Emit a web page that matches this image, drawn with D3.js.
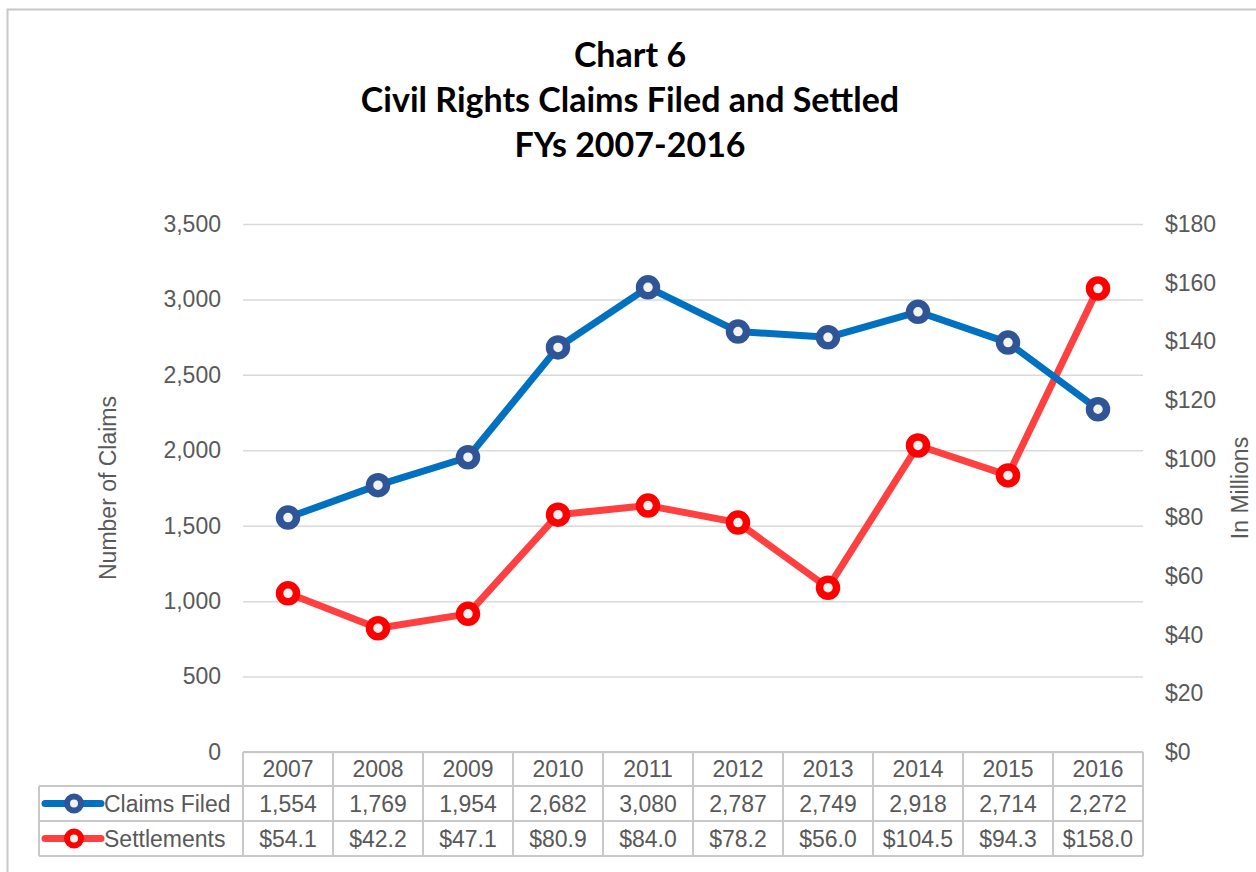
<!DOCTYPE html>
<html>
<head>
<meta charset="utf-8">
<script src="https://cdn.jsdelivr.net/npm/d3@7"></script>
<style>
  body { margin: 0; background: #fff; }
  text { font-family: "Liberation Sans", Arial, sans-serif; }
</style>
</head>
<body>
<svg id="chart"></svg>
<script>
// Data
const years = ["2007", "2008", "2009", "2010", "2011", "2012", "2013", "2014", "2015", "2016"];
const claimsFiled = [1554, 1769, 1954, 2682, 3080, 2787, 2749, 2918, 2714, 2272];
const settlements = [54.1, 42.2, 47.1, 80.9, 84.0, 78.2, 56.0, 104.5, 94.3, 158.0];
const leftTicks = [0, 500, 1000, 1500, 2000, 2500, 3000, 3500];
const rightTicks = [0, 20, 40, 60, 80, 100, 120, 140, 160, 180];
const titleLines = ["Chart 6", "Civil Rights Claims Filed and Settled", "FYs 2007-2016"];

let width = 1256, height = 872;
let margin = { top: 224, bottom: 120, left: 243, right: 113 };

let svg = d3.select('#chart')
    .attr('width', width)
    .attr('height', height);

// outer chart border
svg.append('rect')
    .attr('x', 7.5).attr('y', 9.5)
    .attr('width', width).attr('height', height)
    .attr('fill', 'white')
    .attr('stroke', '#c8c8c8')
    .attr('stroke-width', 2);

// title
svg.append('g').selectAll('text')
    .data(titleLines)
    .enter().append('text')
    .attr('x', 630)
    .attr('y', (d, i) => 67 + i * 45)
    .attr('text-anchor', 'middle')
    .style('font-family', 'Lato, "Open Sans", sans-serif')
    .style('font-weight', 'bold')
    .style('font-size', '34px')
    .attr('fill', '#000')
    .text(d => d);

// scales
let xScale = d3.scaleBand()
    .domain(years)
    .range([margin.left, width - margin.right]);

let yLeft = d3.scaleLinear()
    .domain([0, 3500])
    .range([height - margin.bottom, margin.top]);

let yRight = d3.scaleLinear()
    .domain([0, 180])
    .range([height - margin.bottom, margin.top]);

// gridlines
svg.append('g')
    .attr('transform', `translate(${margin.left}, 0)`)
    .call(d3.axisLeft(yLeft).tickValues(leftTicks)
        .tickSize(-(width - margin.left - margin.right)).tickFormat(''))
    .call(g => g.select('.domain').remove())
    .call(g => g.selectAll('line').attr('stroke', '#d9d9d9').attr('stroke-width', 1.5));

// left axis labels
let yAxisL = svg.append('g')
    .attr('transform', `translate(${margin.left - 19}, 0)`)
    .call(d3.axisLeft(yLeft).tickValues(leftTicks).tickSize(0).tickFormat(d3.format(',')));
yAxisL.select('.domain').remove();
yAxisL.selectAll('text')
    .attr('fill', '#595959')
    .style('font-size', '23px');

// right axis labels
let yAxisR = svg.append('g')
    .attr('transform', `translate(${width - margin.right + 19}, 0)`)
    .call(d3.axisRight(yRight).tickValues(rightTicks).tickSize(0).tickFormat(d => '$' + d));
yAxisR.select('.domain').remove();
yAxisR.selectAll('text')
    .attr('fill', '#595959')
    .style('font-size', '23px');

// axis titles
svg.append('text')
    .attr('transform', 'translate(116, 488) rotate(-90)')
    .attr('text-anchor', 'middle')
    .attr('fill', '#595959')
    .style('font-size', '23px')
    .text('Number of Claims');

svg.append('text')
    .attr('transform', 'translate(1248, 488) rotate(-90)')
    .attr('text-anchor', 'middle')
    .attr('fill', '#595959')
    .style('font-size', '23px')
    .text('In Millions');

const cx = d => xScale(d) + xScale.bandwidth() / 2;

// settlements line (drawn first, claims on top)
const series = [
    { name: 'Settlements', values: settlements, y: yRight, line: '#ff4040', marker: '#ff0000' },
    { name: 'Claims Filed', values: claimsFiled, y: yLeft, line: '#0070c0', marker: '#2f5597' }
];

series.forEach(s => {
    let line = d3.line()
        .x((d, i) => cx(years[i]))
        .y(d => s.y(d));
    svg.append('path')
        .datum(s.values)
        .attr('fill', 'none')
        .attr('stroke', s.line)
        .attr('stroke-width', 7)
        .attr('stroke-linejoin', 'round')
        .attr('d', line);
    svg.append('g').selectAll('circle')
        .data(s.values)
        .enter().append('circle')
        .attr('cx', (d, i) => cx(years[i]))
        .attr('cy', d => s.y(d))
        .attr('r', 8.5)
        .attr('fill', '#f2f2f2')
        .attr('stroke', s.marker)
        .attr('stroke-width', 7.5);
});

// data table
const rowTop = height - margin.bottom;
const rowH = [34, 35, 35];
const rowY = [rowTop, rowTop + rowH[0], rowTop + rowH[0] + rowH[1], rowTop + rowH[0] + rowH[1] + rowH[2]];
const tableLeft = 39;
let table = svg.append('g');
const gridColor = '#c8c8c8';

// horizontal lines
table.append('line').attr('x1', margin.left).attr('x2', width - margin.right)
    .attr('y1', rowY[0]).attr('y2', rowY[0]);
[1, 2, 3].forEach(r => {
    table.append('line').attr('x1', tableLeft).attr('x2', width - margin.right)
        .attr('y1', rowY[r]).attr('y2', rowY[r]);
});
// vertical lines
table.append('line').attr('x1', tableLeft).attr('x2', tableLeft)
    .attr('y1', rowY[1]).attr('y2', rowY[3]);
years.forEach(y => {
    table.append('line').attr('x1', xScale(y)).attr('x2', xScale(y))
        .attr('y1', rowY[0]).attr('y2', rowY[3]);
});
table.append('line').attr('x1', width - margin.right).attr('x2', width - margin.right)
    .attr('y1', rowY[0]).attr('y2', rowY[3]);
table.selectAll('line').attr('stroke', gridColor).attr('stroke-width', 2);

const cellText = (x, row, txt, anchor) => table.append('text')
    .attr('x', x)
    .attr('y', (rowY[row] + rowY[row + 1]) / 2)
    .attr('dy', '0.36em')
    .attr('text-anchor', anchor || 'middle')
    .attr('fill', '#595959')
    .style('font-size', '23px')
    .text(txt);

years.forEach((y, i) => {
    cellText(cx(y), 0, y);
    cellText(cx(y), 1, d3.format(',')(claimsFiled[i]));
    cellText(cx(y), 2, '$' + settlements[i].toFixed(1));
});

// legend keys inside the table
[series[1], series[0]].forEach((s, k) => {
    const yMid = (rowY[k + 1] + rowY[k + 2]) / 2;
    table.append('line')
        .attr('x1', 45).attr('x2', 101)
        .attr('y1', yMid).attr('y2', yMid)
        .attr('stroke', s.line).attr('stroke-width', 7).attr('stroke-linecap', 'round');
    table.append('circle')
        .attr('cx', 74).attr('cy', yMid).attr('r', 7)
        .attr('fill', '#f2f2f2').attr('stroke', s.marker).attr('stroke-width', 6);
    cellText(104, k + 1, s.name, 'start');
});
</script>
</body>
</html>
